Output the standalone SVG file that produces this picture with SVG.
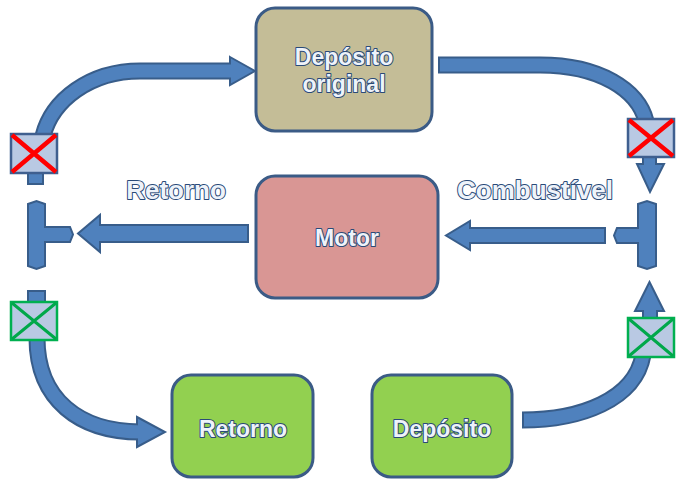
<svg xmlns="http://www.w3.org/2000/svg" width="687" height="491" viewBox="0 0 687 491">
<style>
.box{stroke:#3B5B86;stroke-width:3}
.t{font-family:"Liberation Sans",Arial,sans-serif;font-size:23px;font-weight:bold;fill:#EEF3FA;stroke:#2A4A78;stroke-width:2;paint-order:stroke fill;text-anchor:middle;stroke-linejoin:round}
.lbl{font-size:26px}
.so{fill:none;stroke:#385D8A;stroke-width:17}
.si{fill:none;stroke:#4F81BD;stroke-width:13}
.ah{fill:#4F81BD;stroke:#385D8A;stroke-width:2;stroke-linejoin:miter}
.valve{fill:#B9C9E3;stroke-width:2.5}
.vr{stroke:#3F5F8F}
.vg{stroke:#00B050}
.xr{stroke:#FF0000;stroke-width:4.5}
.xg{stroke:#00A84A;stroke-width:3}
</style>
<rect width="687" height="491" fill="#FFFFFF"/>
<g id="connectors">
  <path class="so" d="M43 136 C52 100 90 71 140 71 L232 71"/>
  <polygon class="ah" points="230,57 255,71 230,85"/>
  <path class="si" d="M43 136 C52 100 90 71 140 71 L234 71"/>
  <path class="so" d="M438 65 L540 65 C600 65 638 90 646 121"/>
  <path class="si" d="M440 65 L540 65 C600 65 638 90 646 121"/>
  <polygon class="ah" points="643,156 656,156 656,164 664,164 650,192 637,164 643,164"/>
  <path class="so" d="M37 338 C37 400 80 432 140 432"/>
  <polygon class="ah" points="137,417 165,432 137,447"/>
  <path class="si" d="M37 338 C37 400 80 432 142 432"/>
  <path class="so" d="M522 420 C580 420 635 400 643 355"/>
  <path class="si" d="M524 420 C580 420 635 400 643 355"/>
  <polygon class="ah" points="643,319 657,319 657,311 664,311 649.5,282 635,311 643,311"/>
  <polygon class="ah" points="248,225 100,225 100,215 78,233.5 100,252 100,242 248,242"/>
  <polygon class="ah" points="605,228 470,228 470,221 446,235.5 470,250 470,243 605,243"/>
  <rect class="ah" x="28" y="172" width="15" height="12"/>
  <rect class="ah" x="28" y="291" width="17" height="12"/>
  <path class="ah" d="M28 204 L36.5 201 L45 204 L45 227 L70 227 L73 234.5 L70 242 L45 242 L45 266 L36.5 269 L28 266 Z"/>
  <path class="ah" d="M638 204 L647 201 L656 204 L656 266 L647 269 L638 266 L638 243 L617 243 L614 235.5 L617 228 L638 228 Z"/>
</g>
<g id="valve-left-top">
  <rect class="valve vr" x="11" y="134" width="46" height="39"/>
  <path class="xr" d="M12 135 L56 172 M56 135 L12 172"/>
</g>
<g id="valve-right-top">
  <rect class="valve vr" x="628" y="119" width="46" height="38"/>
  <path class="xr" d="M629 120 L673 156 M673 120 L629 156"/>
</g>
<g id="valve-left-bottom">
  <rect class="valve vg" x="11" y="302" width="46" height="38"/>
  <path class="xg" d="M12 303 L56 339 M56 303 L12 339"/>
</g>
<g id="valve-right-bottom">
  <rect class="valve vg" x="628" y="318" width="46" height="39"/>
  <path class="xg" d="M629 319 L673 356 M673 319 L629 356"/>
</g>
<g id="deposito-original">
  <rect class="box" x="256" y="8" width="176" height="123" rx="19" fill="#C4BD97"/>
  <text class="t" x="344" y="65">Depósito</text>
  <text class="t" x="344" y="92">original</text>
</g>
<g id="motor">
  <rect class="box" x="256" y="176" width="182" height="122" rx="19" fill="#D99694"/>
  <text class="t" x="347" y="246">Motor</text>
</g>
<g id="retorno">
  <rect class="box" x="172" y="375" width="141" height="102" rx="19" fill="#92D050"/>
  <text class="t" x="243" y="437">Retorno</text>
</g>
<g id="deposito">
  <rect class="box" x="372" y="375" width="140" height="102" rx="19" fill="#92D050"/>
  <text class="t" x="442" y="437">Depósito</text>
</g>
<g id="labels">
  <text class="t lbl" x="176" y="199">Retorno</text>
  <text class="t lbl" x="535" y="199">Combustível</text>
</g>
</svg>
